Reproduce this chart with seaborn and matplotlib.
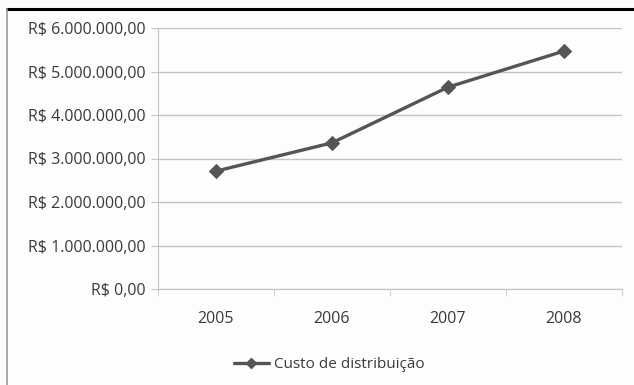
import matplotlib
matplotlib.use("Agg")
import matplotlib.pyplot as plt
from matplotlib.lines import Line2D
from matplotlib.ticker import FuncFormatter, FixedLocator
import seaborn as sns
import pandas as pd

anos = ["2005", "2006", "2007", "2008"]
custo = [2710000, 3360000, 4640000, 5470000]
serie = "Custo de distribuição"

sns.set_style("white")
plt.rcParams["font.family"] = ["Open Sans", "DejaVu Sans"]

df = pd.DataFrame({"ano": anos, "custo": custo, "pos": range(len(anos))})

fig = plt.figure(figsize=(6.34, 3.85), dpi=100)
fig.patch.set_facecolor("#fdfdfd")
ax = fig.add_axes([158 / 634, 1 - 289 / 385, 464 / 634, 261 / 385])
ax.set_facecolor("#fdfdfd")

cor = "#555555"
sns.lineplot(data=df, x="pos", y="custo", ax=ax, color=cor, linewidth=2.4,
             marker="D", markersize=7, markeredgecolor=cor, legend=False)

def reais(v, _):
    s = f"{v:,.2f}".replace(",", "X").replace(".", ",").replace("X", ".")
    return f"R$ {s}"

ax.set_ylim(0, 6000000)
ax.yaxis.set_major_locator(FixedLocator([i * 1000000 for i in range(7)]))
ax.yaxis.set_major_formatter(FuncFormatter(reais))
ax.set_xlim(-0.5, len(anos) - 0.5)
ax.set_xticks(range(len(anos)))
ax.set_xticklabels(anos)
ax.set_xticks([i - 0.5 for i in range(len(anos) + 1)], minor=True)
ax.set_xlabel("")
ax.set_ylabel("")

grade = "#c4c4c4"
ax.grid(axis="y", color=grade, linewidth=1)
ax.set_axisbelow(True)
for lado in ["top", "right"]:
    ax.spines[lado].set_visible(False)
ax.spines["left"].set_color(grade)
ax.spines["bottom"].set_color(grade)
ax.tick_params(axis="y", which="major", length=5, color=grade, labelsize=11.5,
               labelcolor="#3a3a3a", pad=4, left=True)
ax.tick_params(axis="x", which="major", length=0, labelsize=11.5,
               labelcolor="#3a3a3a", pad=16)
ax.tick_params(axis="x", which="minor", length=5, color=grade, direction="out",
               bottom=True)

handle = Line2D([], [], color=cor, linewidth=2.4, marker="D", markersize=5)
fig.legend([handle], [serie], loc="center", bbox_to_anchor=(0.519, 1 - 365 / 385),
           frameon=False, fontsize=11, handlelength=2.3, handletextpad=0.3,
           labelcolor="#3a3a3a")

# moldura: linha superior escura e borda esquerda
fig.add_artist(Line2D([7 / 634, 1], [1 - 9 / 385, 1 - 9 / 385], color="black",
                      linewidth=2.2, transform=fig.transFigure))
fig.add_artist(Line2D([7 / 634, 7 / 634], [0, 1 - 9 / 385], color="#9a9a9a",
                      linewidth=1.2, transform=fig.transFigure))

fig.savefig("out.png", dpi=100, facecolor=fig.get_facecolor())
